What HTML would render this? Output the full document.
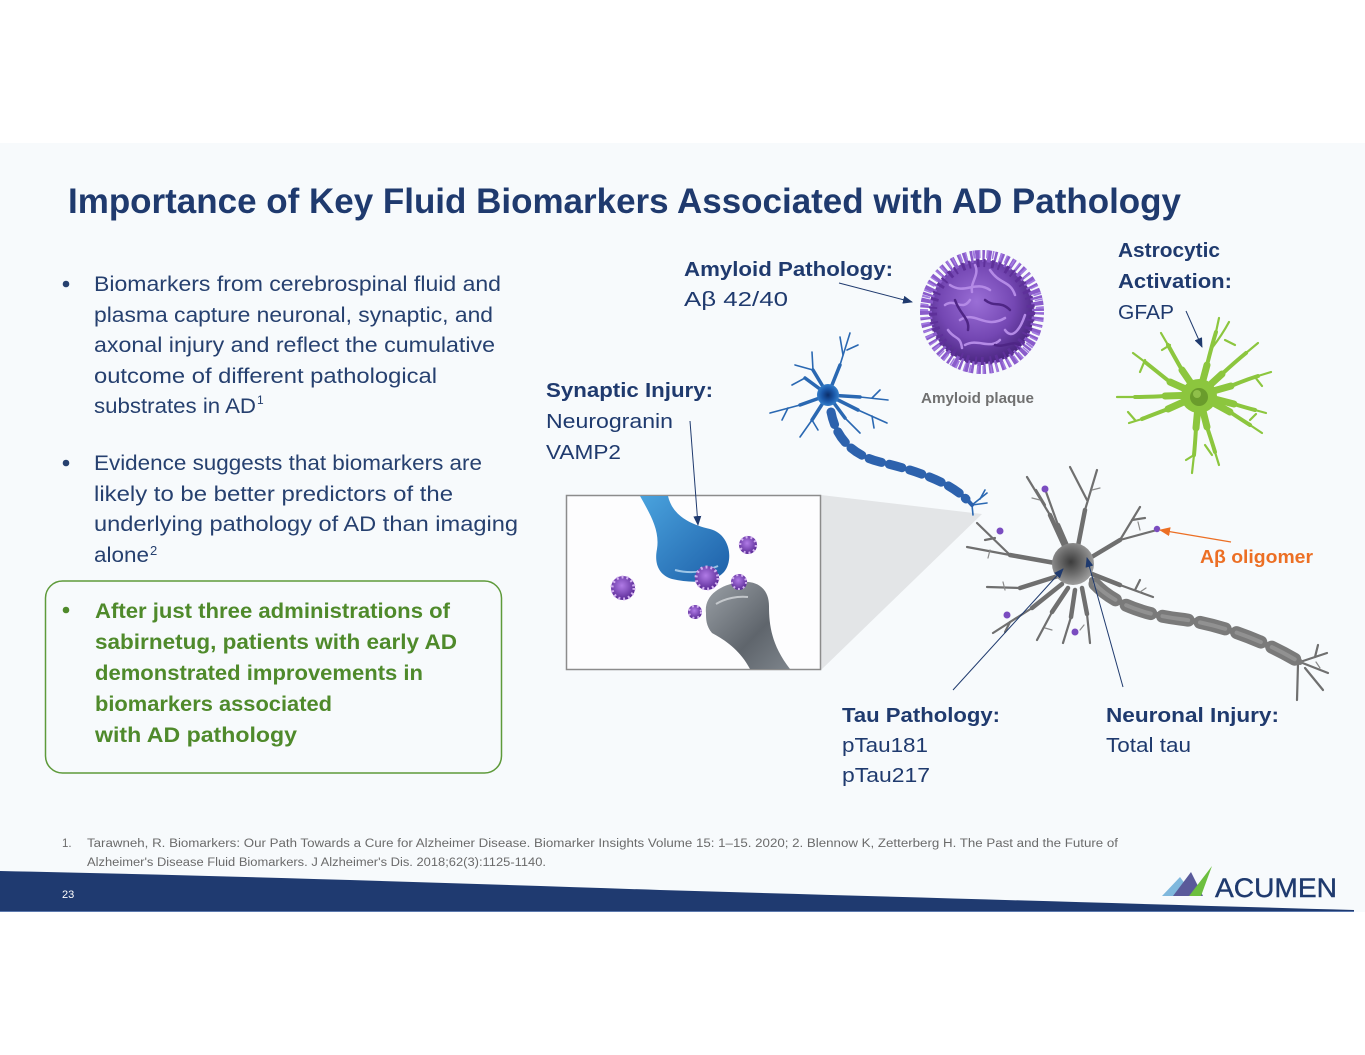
<!DOCTYPE html>
<html><head><meta charset="utf-8"><style>
html,body{margin:0;padding:0;background:#fff;}
svg{display:block;}
text{font-family:"Liberation Sans","DejaVu Sans",sans-serif;}
</style></head><body>
<svg width="1365" height="1055" viewBox="0 0 1365 1055" xmlns="http://www.w3.org/2000/svg">
<defs>
<marker id="ah" markerWidth="10" markerHeight="8" refX="9" refY="4" orient="auto" markerUnits="userSpaceOnUse"><path d="M0,0 L10,4 L0,8 z" fill="#1f3a6e"/></marker>
<marker id="ao" markerWidth="11" markerHeight="9" refX="10" refY="4.5" orient="auto" markerUnits="userSpaceOnUse"><path d="M0,0 L11,4.5 L0,9 z" fill="#ec6f24"/></marker>
<radialGradient id="pg" cx="45%" cy="40%" r="60%"><stop offset="0" stop-color="#9a6ed6"/><stop offset="0.6" stop-color="#7447b3"/><stop offset="1" stop-color="#4a2680"/></radialGradient>
<radialGradient id="gb" cx="45%" cy="45%" r="60%"><stop offset="0" stop-color="#3c3c3c"/><stop offset="0.5" stop-color="#6e6e6e"/><stop offset="1" stop-color="#a5a5a5"/></radialGradient>
<radialGradient id="bb" cx="50%" cy="50%" r="55%"><stop offset="0" stop-color="#0b2e6a"/><stop offset="0.5" stop-color="#1a57a8"/><stop offset="1" stop-color="#3a86d0"/></radialGradient>
<linearGradient id="pre" x1="0" y1="0" x2="1" y2="1"><stop offset="0" stop-color="#4aa3de"/><stop offset="1" stop-color="#1d5fa8"/></linearGradient>
<linearGradient id="post" x1="0" y1="0" x2="1" y2="1"><stop offset="0" stop-color="#9aa0a6"/><stop offset="0.6" stop-color="#5f656c"/><stop offset="1" stop-color="#7d848b"/></linearGradient>
<radialGradient id="ol" cx="45%" cy="40%" r="60%"><stop offset="0" stop-color="#b07be6"/><stop offset="1" stop-color="#5a2a96"/></radialGradient>
</defs>

<rect x="0" y="0" width="1365" height="1055" fill="#ffffff"/>
<rect x="0" y="143" width="1365" height="769" fill="#f7fafc"/>

<!-- Title -->
<text x="68" y="213" font-size="35" font-weight="bold" fill="#1f3a6e" textLength="1113" lengthAdjust="spacingAndGlyphs">Importance of Key Fluid Biomarkers Associated with AD Pathology</text>

<!-- Bullet 1 -->
<g fill="#26406f" font-size="21">
<circle cx="66" cy="284" r="3.3"/>
<text x="94" y="291" textLength="407" lengthAdjust="spacingAndGlyphs">Biomarkers from cerebrospinal fluid and</text>
<text x="94" y="322" textLength="399" lengthAdjust="spacingAndGlyphs">plasma capture neuronal, synaptic, and</text>
<text x="94" y="352" textLength="401" lengthAdjust="spacingAndGlyphs">axonal injury and reflect the cumulative</text>
<text x="94" y="383" textLength="343" lengthAdjust="spacingAndGlyphs">outcome of different pathological</text>
<text x="94" y="413" textLength="162" lengthAdjust="spacingAndGlyphs">substrates in AD</text>
<text x="257" y="404" font-size="12">1</text>
<circle cx="66" cy="463" r="3.3"/>
<text x="94" y="470" textLength="388" lengthAdjust="spacingAndGlyphs">Evidence suggests that biomarkers are</text>
<text x="94" y="501" textLength="359" lengthAdjust="spacingAndGlyphs">likely to be better predictors of the</text>
<text x="94" y="531" textLength="424" lengthAdjust="spacingAndGlyphs">underlying pathology of AD than imaging</text>
<text x="94" y="562" textLength="55" lengthAdjust="spacingAndGlyphs">alone</text>
<text x="150" y="555" font-size="13">2</text>
</g>

<!-- Green box -->
<rect x="45.5" y="581" width="456" height="192" rx="17" ry="17" fill="none" stroke="#5e9a3a" stroke-width="1.5"/>
<g fill="#4f8a2b" font-size="21" font-weight="bold">
<circle cx="66" cy="610" r="3.3"/>
<text x="95" y="618" textLength="355" lengthAdjust="spacingAndGlyphs">After just three administrations of</text>
<text x="95" y="649" textLength="362" lengthAdjust="spacingAndGlyphs">sabirnetug, patients with early AD</text>
<text x="95" y="680" textLength="328" lengthAdjust="spacingAndGlyphs">demonstrated improvements in</text>
<text x="95" y="711" textLength="237" lengthAdjust="spacingAndGlyphs">biomarkers associated</text>
<text x="95" y="742" textLength="202" lengthAdjust="spacingAndGlyphs">with AD pathology</text>
</g>

<!-- Funnel & synapse box -->
<polygon points="821,495 821,670 982,514" fill="#e3e5e7"/>
<rect x="566.5" y="495.5" width="254" height="174" fill="#fdfdfe" stroke="#8c8c8c" stroke-width="1.5"/>
<path d="M640,496 L668,496 C672,514 688,524 710,529 C730,534 734,560 724,572 C713,584 690,583 672,579 C659,575 654,564 657,549 C660,530 650,514 640,496 Z" fill="url(#pre)"/>
<path d="M675,570 C690,574 705,572 718,566" stroke="#cfe8fb" stroke-width="2" fill="none" opacity="0.7"/>
<path d="M706,613 C704,596 719,585 740,582 C760,580 769,591 769,606 C769,626 772,646 790,669 L750,669 C740,650 725,640 712,633 C706,626 706,619 706,613 Z" fill="url(#post)"/>
<path d="M716,604 C726,598 738,596 748,597" stroke="#e0e3e6" stroke-width="2" fill="none" opacity="0.7"/>
<g>
<circle cx="623" cy="588" r="12" fill="url(#ol)"/><circle cx="623" cy="588" r="11" fill="none" stroke="#d2b0f0" stroke-width="3" stroke-dasharray="2 3"/>
<circle cx="748" cy="545" r="9" fill="url(#ol)"/><circle cx="748" cy="545" r="8" fill="none" stroke="#d2b0f0" stroke-width="2.5" stroke-dasharray="2 3"/>
<circle cx="707" cy="578" r="12" fill="url(#ol)"/><circle cx="707" cy="578" r="11" fill="none" stroke="#d2b0f0" stroke-width="3" stroke-dasharray="2 3"/>
<circle cx="739" cy="582" r="8" fill="url(#ol)"/><circle cx="739" cy="582" r="7" fill="none" stroke="#d2b0f0" stroke-width="2" stroke-dasharray="2 3"/>
<circle cx="695" cy="612" r="7" fill="url(#ol)"/><circle cx="695" cy="612" r="6" fill="none" stroke="#d2b0f0" stroke-width="2" stroke-dasharray="2 3"/>
</g>

<!-- Amyloid plaque -->
<g>
<circle cx="982" cy="312" r="52" fill="url(#pg)"/>
<circle cx="982" cy="312" r="56" fill="none" stroke="#8a5ccb" stroke-width="12" stroke-dasharray="2.5 2.5 4 3"/>
<circle cx="982" cy="312" r="58" fill="none" stroke="#a27ae0" stroke-width="8" stroke-dasharray="1.5 6 2 4"/>
<circle cx="982" cy="312" r="49" fill="none" stroke="#5e309a" stroke-width="8" stroke-dasharray="3 4 2 6"/>
<g stroke="#b48ae6" stroke-width="2.5" fill="none" stroke-linecap="round">
<path d="M950,285 C965,295 975,280 990,290"/>
<path d="M960,320 C975,310 985,330 1005,318"/>
<path d="M945,305 C955,298 962,312 970,300"/>
<path d="M990,270 C1000,285 1010,280 1015,295"/>
<path d="M965,345 C978,338 990,350 1000,340"/>
<path d="M1005,330 C1012,340 1020,330 1025,315"/>
<path d="M975,265 C980,275 970,282 972,292"/>
<path d="M948,330 C955,340 960,335 962,348"/>
</g>
<g stroke="#4e2585" stroke-width="2.5" fill="none" stroke-linecap="round">
<path d="M985,300 C995,308 1000,300 1010,310"/>
<path d="M955,300 C960,315 970,318 968,330"/>
<path d="M995,345 C1005,348 1012,340 1020,345"/>
</g>
</g>
<text x="921" y="403" font-size="14.5" font-weight="bold" fill="#707070" textLength="113" lengthAdjust="spacingAndGlyphs">Amyloid plaque</text>

<!-- Astrocyte -->
<g stroke="#8cc63e" fill="none" stroke-linecap="round">
<g stroke-width="7">
<path d="M1199,395 L1207,365"/><path d="M1199,395 L1182,370"/><path d="M1199,395 L1170,382"/><path d="M1199,395 L1165,396"/><path d="M1199,395 L1168,409"/><path d="M1199,395 L1196,428"/><path d="M1199,395 L1207,427"/><path d="M1199,395 L1230,412"/><path d="M1199,395 L1234,404"/><path d="M1199,395 L1231,386"/><path d="M1199,395 L1222,374"/>
</g>
<g stroke-width="4">
<path d="M1207,365 Q1212,345 1216,332"/><path d="M1182,370 Q1174,356 1168,345"/><path d="M1170,382 Q1155,370 1145,362"/><path d="M1165,396 Q1148,397 1135,397"/><path d="M1168,409 Q1152,415 1142,419"/><path d="M1196,428 Q1195,445 1194,455"/><path d="M1207,427 Q1212,442 1215,452"/><path d="M1230,412 Q1242,420 1250,425"/><path d="M1234,404 Q1247,408 1255,410"/><path d="M1231,386 Q1245,380 1258,376"/><path d="M1222,374 Q1235,362 1246,353"/>
</g>
<g stroke-width="2.2">
<path d="M1216,332 L1219,318"/><path d="M1212,348 Q1222,335 1229,322"/>
<path d="M1168,345 L1161,333"/><path d="M1145,362 L1133,353"/>
<path d="M1135,397 L1117,397"/><path d="M1142,419 L1129,423"/>
<path d="M1194,455 L1192,473"/><path d="M1215,452 L1219,465"/>
<path d="M1250,425 L1262,433"/><path d="M1255,410 L1266,413"/>
<path d="M1258,376 L1271,372"/><path d="M1246,353 L1258,343"/>
<path d="M1145,360 L1140,372"/><path d="M1135,420 L1128,412"/><path d="M1250,420 L1256,414"/><path d="M1255,377 L1262,386"/><path d="M1170,345 L1162,350"/><path d="M1194,455 L1186,460"/><path d="M1225,340 L1235,345"/><path d="M1205,445 L1212,455"/>
</g>
</g>
<ellipse cx="1199" cy="396" rx="18" ry="17" fill="#8cc63e"/>
<circle cx="1199" cy="397" r="9" fill="#6a9c2c"/>
<circle cx="1197" cy="394" r="4" fill="#8fbf4a"/>

<!-- Blue neuron -->
<g stroke="#2a68b2" fill="none" stroke-linecap="round">
<g stroke-width="3.5">
<path d="M828,395 L840,365"/><path d="M828,395 L813,370"/><path d="M828,395 L805,378"/><path d="M828,395 L800,405"/><path d="M828,395 L812,420"/><path d="M828,395 L860,397"/><path d="M828,395 L858,410"/><path d="M828,395 L845,418"/>
</g>
<g stroke-width="1.6">
<path d="M840,365 L850,333"/><path d="M843,355 L840,337"/><path d="M847,350 L858,345"/><path d="M813,370 L812,352"/><path d="M813,370 L795,365"/><path d="M805,378 L792,385"/><path d="M800,405 L770,413"/><path d="M788,408 L782,420"/><path d="M812,420 L800,437"/><path d="M812,420 L818,430"/><path d="M860,397 L888,400"/><path d="M872,398 L880,390"/><path d="M858,410 L887,423"/><path d="M872,416 L874,428"/><path d="M845,418 L860,433"/>
<path d="M972,505 L987,493"/><path d="M972,505 L987,503"/><path d="M972,505 L973,515"/><path d="M980,499 L985,490"/>
</g>
</g>
<path d="M831,410 C836,438 852,455 880,462 C905,468 925,474 945,484 C958,491 965,497 972,505" stroke="#2d62ad" stroke-width="4" fill="none" stroke-linecap="round"/>
<path d="M831,412 C836,438 852,455 880,462 C905,468 925,474 945,484 C956,490 962,495 966,499" stroke="#2d62ad" stroke-width="9" fill="none" stroke-linecap="round" stroke-dasharray="13 8"/>
<circle cx="828" cy="395" r="11" fill="url(#bb)"/>

<!-- Gray neuron -->
<g stroke="#6f6f6f" fill="none" stroke-linecap="round">
<g stroke-width="4.5">
<path d="M1066,550 L1050,515"/><path d="M1078,546 L1085,510"/><path d="M1068,548 L1058,525"/><path d="M1090,558 L1120,540"/><path d="M1055,563 L1010,555"/><path d="M1058,576 L1020,588"/><path d="M1062,584 L1032,608"/><path d="M1068,588 L1052,612"/><path d="M1075,590 L1071,617"/><path d="M1082,588 L1087,614"/><path d="M1092,574 L1120,585"/>
</g>
<g stroke-width="2.2">
<path d="M1050,515 L1027,477"/><path d="M1045,505 L1036,490"/><path d="M1085,510 L1097,470"/><path d="M1087,500 L1070,467"/><path d="M1058,525 L1045,489"/>
<path d="M1120,540 L1140,507"/><path d="M1120,540 L1157,530"/><path d="M1132,520 L1145,518"/>
<path d="M1010,555 L967,547"/><path d="M1010,555 L977,523"/><path d="M995,538 L985,540"/>
<path d="M1020,588 L987,587"/><path d="M1032,608 L993,633"/><path d="M1010,622 L1005,632"/>
<path d="M1052,612 L1037,640"/><path d="M1071,617 L1063,643"/><path d="M1087,614 L1090,643"/><path d="M1120,585 L1153,597"/><path d="M1135,590 L1140,580"/>
<path d="M1300,662 L1327,653"/><path d="M1300,662 L1328,673"/><path d="M1305,668 L1323,690"/><path d="M1298,664 L1297,700"/><path d="M1315,657 L1318,645"/>
</g>
<g stroke-width="1.2" stroke="#8a8a8a">
<path d="M1040,500 L1032,498"/><path d="M1092,490 L1100,488"/><path d="M1140,530 L1138,522"/><path d="M990,550 L988,558"/><path d="M1005,590 L1003,582"/><path d="M1045,628 L1052,630"/><path d="M1080,630 L1084,625"/><path d="M1140,592 L1146,588"/><path d="M1316,662 L1320,668"/>
</g>
</g>
<path d="M1092,580 C1112,602 1140,614 1180,619 C1220,624 1262,640 1300,662" stroke="#7a7a7a" stroke-width="6" fill="none" stroke-linecap="round"/>
<path d="M1095,584 C1112,602 1140,614 1180,619 C1220,624 1262,640 1296,660" stroke="#7a7a7a" stroke-width="13" fill="none" stroke-linecap="round" stroke-dasharray="26 12"/>
<path d="M1095,584 C1112,602 1140,614 1180,619 C1220,624 1262,640 1296,660" stroke="#a0a0a0" stroke-width="4" fill="none" stroke-linecap="round" stroke-dasharray="26 12" opacity="0.6"/>
<circle cx="1073" cy="564" r="21" fill="url(#gb)"/>
<g fill="#7a4cc0">
<circle cx="1045" cy="489" r="3.5"/><circle cx="1000" cy="531" r="3.5"/><circle cx="1007" cy="615" r="3.5"/><circle cx="1075" cy="632" r="3.5"/><circle cx="1157" cy="529" r="3.2"/>
</g>

<!-- Labels -->
<g fill="#1f3a6e" font-size="20">
<text x="684" y="276" font-weight="bold" textLength="209" lengthAdjust="spacingAndGlyphs">Amyloid Pathology:</text>
<text x="684" y="306" textLength="104" lengthAdjust="spacingAndGlyphs">Aβ 42/40</text>
<text x="546" y="397" font-weight="bold" textLength="167" lengthAdjust="spacingAndGlyphs">Synaptic Injury:</text>
<text x="546" y="428" textLength="127" lengthAdjust="spacingAndGlyphs">Neurogranin</text>
<text x="546" y="459" textLength="75" lengthAdjust="spacingAndGlyphs">VAMP2</text>
<text x="1118" y="257" font-weight="bold" textLength="102" lengthAdjust="spacingAndGlyphs">Astrocytic</text>
<text x="1118" y="288" font-weight="bold" textLength="114" lengthAdjust="spacingAndGlyphs">Activation:</text>
<text x="1118" y="319" textLength="56" lengthAdjust="spacingAndGlyphs">GFAP</text>
<text x="842" y="722" font-weight="bold" textLength="158" lengthAdjust="spacingAndGlyphs">Tau Pathology:</text>
<text x="842" y="752" textLength="86" lengthAdjust="spacingAndGlyphs">pTau181</text>
<text x="842" y="782" textLength="88" lengthAdjust="spacingAndGlyphs">pTau217</text>
<text x="1106" y="722" font-weight="bold" textLength="173" lengthAdjust="spacingAndGlyphs">Neuronal Injury:</text>
<text x="1106" y="752" textLength="85" lengthAdjust="spacingAndGlyphs">Total tau</text>
</g>
<text x="1200" y="563" font-size="18" font-weight="bold" fill="#ec6f24" textLength="113" lengthAdjust="spacingAndGlyphs">Aβ oligomer</text>

<!-- Arrows -->
<g stroke="#1f3a6e" stroke-width="1" fill="none">
<line x1="839" y1="283" x2="912" y2="302" marker-end="url(#ah)"/>
<line x1="1186" y1="311" x2="1202" y2="347" marker-end="url(#ah)"/>
<line x1="690" y1="421" x2="698" y2="525" marker-end="url(#ah)"/>
<line x1="953" y1="690" x2="1063" y2="569" marker-end="url(#ah)"/>
<line x1="1123" y1="687" x2="1087" y2="558" marker-end="url(#ah)"/>
</g>
<line x1="1231" y1="542" x2="1160" y2="530" stroke="#ec6f24" stroke-width="1.2" marker-end="url(#ao)"/>

<!-- Footnote -->
<g fill="#6a6a6a" font-size="11.5">
<text x="62" y="847">1.</text>
<text x="87" y="847" textLength="1031" lengthAdjust="spacingAndGlyphs">Tarawneh, R. Biomarkers: Our Path Towards a Cure for Alzheimer Disease. Biomarker Insights Volume 15: 1–15. 2020; 2. Blennow K, Zetterberg H. The Past and the Future of</text>
<text x="87" y="866" textLength="459" lengthAdjust="spacingAndGlyphs">Alzheimer's Disease Fluid Biomarkers. J Alzheimer's Dis. 2018;62(3):1125-1140.</text>
</g>

<!-- Footer bar -->
<path d="M0,871 C200,875 450,883 660,890 C900,897 1110,903 1354,910 L1354,911.5 L0,911.5 Z" fill="#1f3a70"/>
<line x1="0" y1="911.5" x2="1354" y2="911.5" stroke="#5b78ad" stroke-width="1"/>
<text x="62" y="898" font-size="11" fill="#ffffff">23</text>

<!-- Logo -->
<polygon points="1162,896 1180,877 1194,896" fill="#7fb8dd"/>
<polygon points="1173,896 1191,872 1203,896" fill="#5a5a9a"/>
<polygon points="1189,896 1212,866 1201,896" fill="#6cbf3f"/>
<text x="1215" y="897" font-size="27" fill="#1f3a6e" stroke="#1f3a6e" stroke-width="0.4" textLength="122" lengthAdjust="spacingAndGlyphs">ACUMEN</text>
</svg>
</body></html>
